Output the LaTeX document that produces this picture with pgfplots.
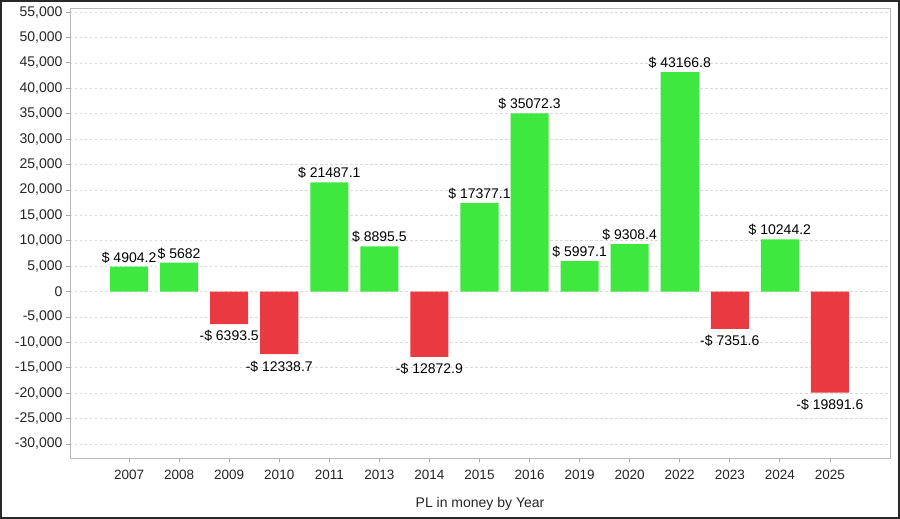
\documentclass[border=0pt]{standalone}
\usepackage{pgfplots}
\pgfplotsset{compat=1.18}
\usepackage{fontspec}
\setmainfont{Liberation Sans}

\definecolor{gainc}{RGB}{62,232,62}
\definecolor{lossc}{RGB}{232,58,64}
\definecolor{framec}{RGB}{40,40,40}

\begin{document}
\begin{tikzpicture}
    \path[use as bounding box] (-70pt,-61pt) rectangle (830pt,458pt);
    \fill[white] (-70pt,-61pt) rectangle (830pt,458pt);
    \begin{axis}[
        at={(0,0)}, anchor=south west,
        scale only axis,
        width=820pt, height=450pt,
        xmin=-1.18, xmax=15.2,
        ymin=-32755, ymax=55800,
        ybar, bar width=0.76, bar shift=0pt,
        xtick={0,...,14},
        xticklabels={2007,2008,2009,2010,2011,2013,2014,2015,2016,2019,2020,2022,2023,2024,2025},
        ytick={-30000,-25000,...,55000},
        scaled y ticks=false,
        xtick pos=left, ytick pos=left,
        tick align=outside,
        major tick length=4pt,
        tick style={color=gray!70, line width=0.8pt},
        axis line style={color=gray!55, line width=0.9pt},
        ymajorgrids=true,
        grid style={dash pattern=on 2.5pt off 2.5pt, color=gray!30, line width=0.7pt},
        xticklabel style={font=\fontsize{13.5}{15}\selectfont, text=black!85, yshift=-5pt},
        yticklabel style={font=\fontsize{14}{16}\selectfont, text=black!85},
        /pgf/number format/fixed,
        /pgf/number format/1000 sep={,},
        /pgf/number format/assume math mode=true,
        xlabel={PL in money by Year},
        xlabel style={font=\fontsize{14}{16}\selectfont, text=black!85,
            at={(axis description cs:0.5,-0.102)}, anchor=center},
        point meta=explicit symbolic,
        nodes near coords,
        nodes near coords style={font=\fontsize{14}{16}\selectfont, text=black},
    ]
    \addplot[fill=gainc, draw=none] coordinates {
        (0,4904.2) [\$ 4904.2]
        (1,5682) [\$ 5682]
        (4,21487.1) [\$ 21487.1]
        (5,8895.5) [\$ 8895.5]
        (7,17377.1) [\$ 17377.1]
        (8,35072.3) [\$ 35072.3]
        (9,5997.1) [\$ 5997.1]
        (10,9308.4) [\$ 9308.4]
        (11,43166.8) [\$ 43166.8]
        (13,10244.2) [\$ 10244.2]
    };
    \addplot[fill=lossc, draw=none,
        every node near coord/.append style={anchor=north, yshift=-3pt}] coordinates {
        (2,-6393.5) [-\$ 6393.5]
        (3,-12338.7) [-\$ 12338.7]
        (6,-12872.9) [-\$ 12872.9]
        (12,-7351.6) [-\$ 7351.6]
        (14,-19891.6) [-\$ 19891.6]
    };
    \end{axis}
    \draw[framec, line width=2pt] (-69pt,-60pt) rectangle (829pt,457pt);
\end{tikzpicture}
\end{document}
